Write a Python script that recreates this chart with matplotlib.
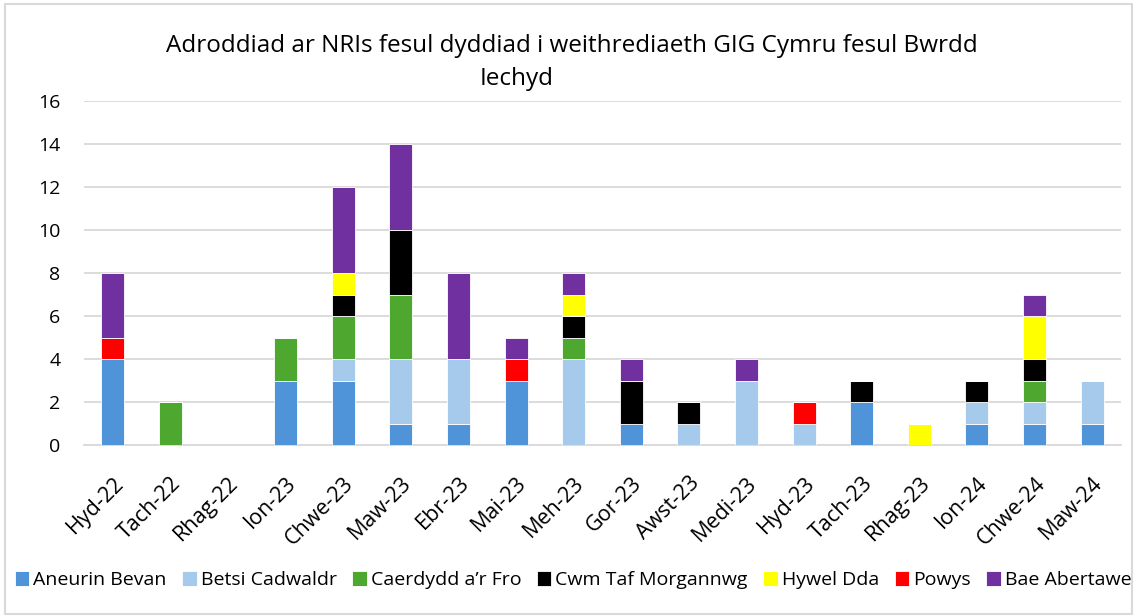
import matplotlib.pyplot as plt
import numpy as np
from matplotlib.patches import Rectangle

plt.rcParams['font.family'] = ['Open Sans', 'DejaVu Sans']

months = ["Hyd-22", "Tach-22", "Rhag-22", "Ion-23", "Chwe-23", "Maw-23", "Ebr-23",
          "Mai-23", "Meh-23", "Gor-23", "Awst-23", "Medi-23", "Hyd-23", "Tach-23",
          "Rhag-23", "Ion-24", "Chwe-24", "Maw-24"]

aneurin_bevan = [4, 0, 0, 3, 3, 1, 1, 3, 0, 1, 0, 0, 0, 2, 0, 1, 1, 1]
betsi_cadwaldr = [0, 0, 0, 0, 1, 3, 3, 0, 4, 0, 1, 3, 1, 0, 0, 1, 1, 2]
caerdydd = [0, 2, 0, 2, 2, 3, 0, 0, 1, 0, 0, 0, 0, 0, 0, 0, 1, 0]
cwm_taf = [0, 0, 0, 0, 1, 3, 0, 0, 1, 2, 1, 0, 0, 1, 0, 1, 1, 0]
hywel_dda = [0, 0, 0, 0, 1, 0, 0, 0, 1, 0, 0, 0, 0, 0, 1, 0, 2, 0]
powys = [1, 0, 0, 0, 0, 0, 0, 1, 0, 0, 0, 0, 1, 0, 0, 0, 0, 0]
bae_abertawe = [3, 0, 0, 0, 4, 4, 4, 1, 1, 1, 0, 1, 0, 0, 0, 0, 1, 0]

series = [
    ("Aneurin Bevan", aneurin_bevan, "#4f94d8"),
    ("Betsi Cadwaldr", betsi_cadwaldr, "#a6caec"),
    ("Caerdydd a\u2019r Fro", caerdydd, "#4ea72e"),
    ("Cwm Taf Morgannwg", cwm_taf, "#000000"),
    ("Hywel Dda", hywel_dda, "#ffff00"),
    ("Powys", powys, "#ff0000"),
    ("Bae Abertawe", bae_abertawe, "#7030a0"),
]

fig = plt.figure(figsize=(11.37, 6.16), dpi=100)
ax = fig.add_axes([0.0739, 0.2776, 0.912, 0.5584])

x = np.arange(len(months))
bottom = np.zeros(len(months))
for name, vals, col in series:
    vals = np.array(vals, dtype=float)
    ax.bar(x, vals, 0.4, bottom=bottom, color=col, label=name,
           edgecolor="white", linewidth=0.6, zorder=3)
    bottom += vals

ax.set_xlim(-0.5, len(months) - 0.5)
ax.set_ylim(0, 16)
ax.set_yticks(range(0, 17, 2))
ax.set_xticks(x)
ax.set_xticklabels(months, rotation=45, ha="right", rotation_mode="anchor")
ax.tick_params(axis="both", length=0, colors="#000000")
ax.tick_params(axis="y", pad=17, labelsize=14)
ax.tick_params(axis="x", pad=20, labelsize=15.5)
ax.grid(axis="y", color="#d9d9d9", linewidth=1.3, zorder=0)
for s in ["top", "right", "left"]:
    ax.spines[s].set_visible(False)
ax.spines["bottom"].set_color("#d9d9d9")
ax.spines["bottom"].set_linewidth(1.3)

fig.text(0.503, 0.925, "Adroddiad ar NRIs fesul dyddiad i weithrediaeth GIG Cymru fesul Bwrdd",
         ha="center", va="center", fontsize=17.5)
fig.text(0.454, 0.872, "Iechyd", ha="center", va="center", fontsize=17.5)

fig.legend(loc="center", bbox_to_anchor=(0.504, 0.058), ncol=7, frameon=False,
           fontsize=14, handlelength=0.75, handleheight=0.75, handletextpad=0.2,
           columnspacing=0.8, borderaxespad=0)

fig.patches.append(Rectangle((0.004, 0.004), 0.992, 0.99, transform=fig.transFigure,
                             fill=False, edgecolor="#d9d9d9", linewidth=1.5))

fig.savefig("out.png", dpi=100)
